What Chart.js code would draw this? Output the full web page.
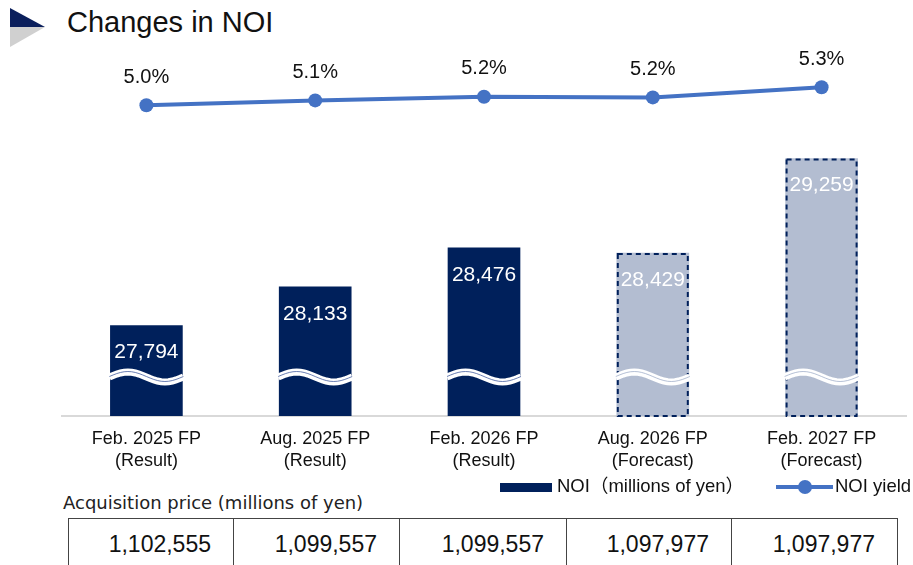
<!DOCTYPE html>
<html>
<head>
<meta charset="utf-8">
<script src="https://cdn.jsdelivr.net/npm/chart.js@4/dist/chart.umd.min.js"></script>
<style>
    html, body { margin: 0; padding: 0; background: #fff; overflow: hidden; }
    body { width: 913px; height: 565px; position: relative; font-family: "Liberation Sans", Arial, sans-serif; color: #111; }
    #chart { position: absolute; left: 0; top: 0; }
    .title { position: absolute; left: 67px; top: 5px; font-size: 29px; line-height: 34px; }
    .icon { position: absolute; left: 10px; top: 8px; }
    .legend { position: absolute; top: 475px; font-size: 18.5px; line-height: 22px; font-family: "Liberation Sans", "Noto Sans CJK JP", sans-serif; white-space: nowrap; }
    .acq { position: absolute; left: 63px; top: 492px; font-size: 18px; line-height: 22px; font-family: "DejaVu Sans", sans-serif; color: #222; }
    table { position: absolute; left: 68px; top: 518px; border-collapse: collapse; }
    td { border: 1px solid #444; height: 52px; padding: 0 22px 0 0; text-align: right; font-size: 23px; box-sizing: border-box; }
</style>
</head>
<body>
<svg class="icon" width="36" height="40">
    <polygon points="0,0 35,19 0,19" fill="#0b1f5c"/>
    <polygon points="0,19 35,19 0,39" fill="#d0d0d0"/>
</svg>
<div class="title">Changes in NOI</div>
<canvas id="chart" width="913" height="480"></canvas>

<div class="legend" style="left:500px;">
    <span style="display:inline-block;width:52px;height:9px;background:#00205B;vertical-align:middle;margin-right:5px;"></span>NOI（millions of yen）
</div>
<div class="legend" style="left:776px;">
    <span style="display:inline-block;position:relative;width:57px;height:4px;background:#4472C4;vertical-align:middle;margin-right:2px;">
        <span style="position:absolute;left:22px;top:-5px;width:14px;height:14px;border-radius:7px;background:#4472C4;"></span>
    </span>NOI yield
</div>

<div class="acq">Acquisition price (millions of yen)</div>
<table><tr id="acqRow"></tr></table>

<script>
const categories = ['Feb. 2025 FP', 'Aug. 2025 FP', 'Feb. 2026 FP', 'Aug. 2026 FP', 'Feb. 2027 FP'];
const periodTypes = ['Result', 'Result', 'Result', 'Forecast', 'Forecast'];
const noi = [27794, 28133, 28476, 28429, 29259];
const noiYield = [5.03, 5.11, 5.17, 5.16, 5.33];
const acquisitionPrices = [1102555, 1099557, 1099557, 1097977, 1097977];

const navy = '#00205B';
const forecastFill = '#B3BDD1';

const row = document.getElementById('acqRow');
const cellWidths = [165, 166, 167, 165, 166];
acquisitionPrices.forEach((p, i) => {
    row.innerHTML += `<td style="width:${cellWidths[i]}px">${p.toLocaleString('en-US')}</td>`;
});

const barDecor = {
    id: 'barDecor',
    afterDatasetsDraw(chart) {
        const ctx = chart.ctx;
        const bottom = chart.chartArea.bottom;
        const bars = chart.getDatasetMeta(1).data;
        bars.forEach((bar, i) => {
            const left = bar.x - bar.width / 2;
            const base = Math.min(bar.base, bottom);
            ctx.save();
            if (periodTypes[i] === 'Forecast') {
                ctx.strokeStyle = navy;
                ctx.lineWidth = 2;
                ctx.setLineDash([5, 4]);
                ctx.strokeRect(left + 1, bar.y + 1, bar.width - 2, base - bar.y - 1);
                ctx.setLineDash([]);
            }
            // wavy break mark
            const yc = base - 39;
            const wave = () => {
                ctx.beginPath();
                for (let t = 0; t <= 1.001; t += 0.05) {
                    const x = left - 1 + t * (bar.width + 2);
                    const y = yc - 5 * Math.sin(2 * Math.PI * t);
                    if (t === 0) ctx.moveTo(x, y); else ctx.lineTo(x, y);
                }
                ctx.stroke();
            };
            ctx.strokeStyle = '#fff';
            ctx.lineWidth = 7;
            wave();
            ctx.strokeStyle = periodTypes[i] === 'Forecast' ? 'rgba(150,165,195,0.7)' : 'rgba(70,95,160,0.8)';
            ctx.lineWidth = 1;
            ctx.translate(0, -0.5);
            wave();
            ctx.restore();

            ctx.save();
            ctx.fillStyle = '#fff';
            ctx.font = '21px "Liberation Sans", Arial, sans-serif';
            ctx.textAlign = 'center';
            ctx.textBaseline = 'middle';
            ctx.fillText(noi[i].toLocaleString('en-US'), bar.x, bar.y + 27);
            ctx.restore();
        });

        const pts = chart.getDatasetMeta(0).data;
        ctx.save();
        ctx.fillStyle = '#111';
        ctx.font = '20px "Liberation Sans", Arial, sans-serif';
        ctx.textAlign = 'center';
        ctx.textBaseline = 'middle';
        pts.forEach((pt, i) => {
            ctx.fillText(noiYield[i].toFixed(1) + '%', pt.x, pt.y - 28);
        });
        ctx.restore();
    }
};

new Chart(document.getElementById('chart').getContext('2d'), {
    data: {
        labels: categories.map((c, i) => [c, '(' + periodTypes[i] + ')']),
        datasets: [{
            type: 'line',
            label: 'NOI yield',
            data: noiYield,
            yAxisID: 'y2',
            borderColor: '#4472C4',
            backgroundColor: '#4472C4',
            borderWidth: 4,
            pointRadius: 7,
            pointBorderWidth: 0,
            pointBackgroundColor: '#4472C4',
            tension: 0,
            order: 0
        }, {
            type: 'bar',
            label: 'NOI',
            data: noi,
            yAxisID: 'y',
            backgroundColor: periodTypes.map(t => t === 'Forecast' ? forecastFill : navy),
            barThickness: 72,
            order: 1
        }]
    },
    options: {
        responsive: false,
        animation: false,
        devicePixelRatio: 1,
        layout: { padding: { left: 62, right: 6, top: 74, bottom: 9 } },
        plugins: { legend: { display: false }, tooltip: { enabled: false } },
        scales: {
            x: {
                grid: { display: false, drawTicks: false },
                border: { color: '#d9d9d9', width: 2 },
                ticks: {
                    color: '#111',
                    padding: 12,
                    font: { family: '"Liberation Sans", Arial, sans-serif', size: 18, lineHeight: 1.22 }
                },
                afterFit(scale) { scale.height = 55; }
            },
            y: { display: false, min: 27000, max: 30000 },
            y2: { display: false, min: -0.15, max: 5.55 }
        }
    },
    plugins: [barDecor]
});
</script>
</body>
</html>
